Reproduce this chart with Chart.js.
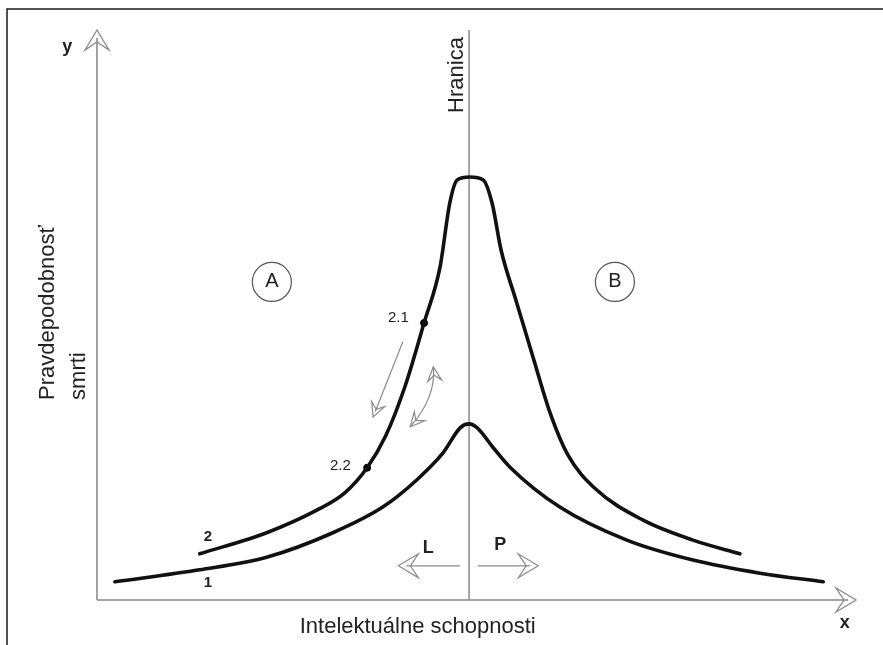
<!DOCTYPE html>
<html>
<head>
<meta charset="utf-8">
<script src="https://cdn.jsdelivr.net/npm/chart.js@4"></script>
<style>
  body { margin: 0; background: #fff; }
  #wrap { width: 883px; height: 645px; position: relative; }
</style>
</head>
<body>
<div id="wrap"><canvas id="diagram"></canvas></div>
<script>
// curve 1 (lower) and curve 2 (upper)
const curve1X = [2.4, 13.8, 22.8, 31.7, 38.4, 43.0, 46.5, 48.8, 50.0, 51.1, 53.2, 55.5, 62.2, 71.2, 80.1, 89.1, 97.6];
const curve1Y = [3.2, 5.3, 7.5, 11.8, 16.3, 21.1, 25.8, 30.2, 30.9, 30.2, 26.8, 23.3, 16.3, 10.5, 7.0, 4.7, 3.2];
const curve2X = [13.8, 22.8, 29.6, 33.3, 36.3, 38.8, 41.4, 43.95, 46.1, 47.4, 48.4, 50.1, 51.9, 53.1, 54.3, 56.3, 58.6, 60.9, 63.3, 66.9, 73.4, 80.1, 86.4];
const curve2Y = [8.1, 11.8, 15.8, 18.8, 23.2, 28.8, 37.5, 48.6, 58.4, 69.6, 73.7, 74.2, 73.7, 69.6, 61.4, 52.6, 42.6, 32.8, 25.4, 19.6, 14.0, 10.5, 8.1];
const markerX = [43.95, 36.3];
const markerY = [48.6, 23.2];
const markerLabels = ['2.1', '2.2'];
const borderX = 50;

const FONT = "'Liberation Sans', Arial, sans-serif";

function toPoints(xs, ys) {
    return xs.map((x, i) => ({ x: x, y: ys[i] }));
}

function openArrow(ctx, tx, ty, angle, len, half) {
    const c = Math.cos(angle), s = Math.sin(angle);
    const bx = tx - c * len, by = ty - s * len;
    const nx = -s, ny = c;
    ctx.beginPath();
    ctx.moveTo(bx + nx * half, by + ny * half);
    ctx.lineTo(tx, ty);
    ctx.lineTo(bx - nx * half, by - ny * half);
    ctx.lineTo(tx - c * len * 0.6, ty - s * len * 0.6);
    ctx.closePath();
    ctx.stroke();
}

const diagramPlugin = {
    id: 'diagramPlugin',
    beforeDatasetsDraw(chart) {
        const ctx = chart.ctx;
        const sx = chart.scales.x, sy = chart.scales.y;
        const P = (x, y) => [sx.getPixelForValue(x), sy.getPixelForValue(y)];
        ctx.save();

        // frame
        ctx.strokeStyle = '#1a1a1a';
        ctx.lineWidth = 1.5;
        ctx.beginPath();
        ctx.moveTo(7, 645);
        ctx.lineTo(7, 9);
        ctx.lineTo(883, 9);
        ctx.stroke();

        // axes
        const o = P(0, 0), yt = P(0, 100), xt = P(102, 0);
        ctx.strokeStyle = '#a3a3a3';
        ctx.lineWidth = 2;
        ctx.beginPath();
        ctx.moveTo(o[0], o[1]);
        ctx.lineTo(yt[0], yt[1] + 8);
        ctx.moveTo(o[0], o[1]);
        ctx.lineTo(xt[0] - 8, xt[1]);
        ctx.stroke();
        ctx.lineWidth = 1.3;
        ctx.strokeStyle = '#8a8a8a';
        openArrow(ctx, yt[0], yt[1], -Math.PI / 2, 20, 12);
        openArrow(ctx, xt[0], xt[1], 0, 20, 12);

        // Hranica line
        const h0 = P(borderX, 0), h1 = P(borderX, 100);
        ctx.strokeStyle = '#8f8f8f';
        ctx.lineWidth = 1.6;
        ctx.beginPath();
        ctx.moveTo(h0[0], h0[1]);
        ctx.lineTo(h1[0], h1[1]);
        ctx.stroke();

        // L / P arrows
        ctx.strokeStyle = '#8a8a8a';
        ctx.lineWidth = 1.2;
        const l0 = P(48.8, 6.0), l1 = P(40.5, 6.0);
        const p0 = P(51.2, 6.0), p1 = P(59.3, 6.0);
        ctx.beginPath();
        ctx.moveTo(l0[0], l0[1]); ctx.lineTo(l1[0] + 8, l1[1]);
        ctx.moveTo(p0[0], p0[1]); ctx.lineTo(p1[0] - 8, p1[1]);
        ctx.stroke();
        openArrow(ctx, l1[0], l1[1], Math.PI, 20, 12);
        openArrow(ctx, p1[0], p1[1], 0, 20, 12);

        // movement arrows along curve 2
        const a0 = P(41.1, 45.3), a1 = P(37.1, 32.1);
        const ang1 = Math.atan2(a1[1] - a0[1], a1[0] - a0[0]);
        ctx.beginPath();
        ctx.moveTo(a0[0], a0[1]);
        ctx.lineTo(a1[0] - Math.cos(ang1) * 6, a1[1] - Math.sin(ang1) * 6);
        ctx.stroke();
        openArrow(ctx, a1[0], a1[1], ang1, 14, 7);

        const b0 = P(45.2, 40.9), bc = P(45.6, 35.6), b1 = P(42.1, 30.4);
        ctx.beginPath();
        ctx.moveTo(b0[0], b0[1]);
        ctx.quadraticCurveTo(bc[0], bc[1], b1[0], b1[1]);
        ctx.stroke();
        openArrow(ctx, b0[0], b0[1], Math.atan2(b0[1] - bc[1], b0[0] - bc[0]), 14, 7);
        openArrow(ctx, b1[0], b1[1], Math.atan2(b1[1] - bc[1], b1[0] - bc[0]), 14, 7);

        ctx.restore();
    },
    afterDatasetsDraw(chart) {
        const ctx = chart.ctx;
        const sx = chart.scales.x, sy = chart.scales.y;
        const P = (x, y) => [sx.getPixelForValue(x), sy.getPixelForValue(y)];
        ctx.save();
        ctx.fillStyle = '#222';
        ctx.textBaseline = 'middle';
        ctx.textAlign = 'center';

        const text = (str, x, y, size, weight) => {
            const p = P(x, y);
            ctx.font = (weight || 'normal') + ' ' + size + 'px ' + FONT;
            ctx.fillText(str, p[0], p[1]);
        };

        text('y', -4.0, 97.0, 18, 'bold');
        text('x', 100.5, -4.0, 18, 'bold');
        text('Intelektuálne schopnosti', 43.1, -4.7, 22);

        // rotated texts
        ctx.font = '22px ' + FONT;
        let p = P(48.4, 92.1);
        ctx.save();
        ctx.translate(p[0], p[1]);
        ctx.rotate(-Math.PI / 2);
        ctx.fillText('Hranica', 0, 0);
        ctx.restore();

        ctx.textAlign = 'left';
        p = P(-6.6, 35.1);
        ctx.save();
        ctx.translate(p[0], p[1]);
        ctx.rotate(-Math.PI / 2);
        ctx.fillText('Pravdepodobnosť', 0, 0);
        ctx.restore();
        p = P(-2.4, 35.1);
        ctx.save();
        ctx.translate(p[0], p[1]);
        ctx.rotate(-Math.PI / 2);
        ctx.fillText('smrti', 0, 0);
        ctx.restore();
        ctx.textAlign = 'center';

        // region circles
        ctx.strokeStyle = '#555';
        ctx.lineWidth = 1.2;
        [['A', 23.5, 55.8], ['B', 69.6, 55.8]].forEach(r => {
            const c = P(r[1], r[2]);
            ctx.beginPath();
            ctx.arc(c[0], c[1], 19.5, 0, Math.PI * 2);
            ctx.stroke();
            text(r[0], r[1], r[2], 20);
        });

        // curve / point labels
        text(markerLabels[0], 40.5, 49.5, 15);
        text(markerLabels[1], 32.7, 23.5, 15);
        text('2', 14.9, 11.1, 15, 'bold');
        text('1', 14.9, 3.0, 15, 'bold');
        text('L', 44.5, 9.1, 18, 'bold');
        text('P', 54.2, 9.6, 18, 'bold');

        ctx.restore();
    }
};

const chart = new Chart(document.getElementById('diagram'), {
    type: 'line',
    data: {
        datasets: [
            {
                label: '1',
                data: toPoints(curve1X, curve1Y),
                borderColor: '#111',
                borderWidth: 3.6,
                pointRadius: 0,
                cubicInterpolationMode: 'monotone',
                borderCapStyle: 'round',
                fill: false
            },
            {
                label: '2',
                data: toPoints(curve2X, curve2Y),
                borderColor: '#111',
                borderWidth: 3.6,
                pointRadius: 0,
                cubicInterpolationMode: 'monotone',
                borderCapStyle: 'round',
                fill: false
            },
            {
                label: 'body',
                data: toPoints(markerX, markerY),
                showLine: false,
                pointRadius: 3.5,
                pointBackgroundColor: '#000',
                pointBorderColor: '#000'
            }
        ]
    },
    options: {
        responsive: true,
        maintainAspectRatio: false,
        animation: false,
        layout: { padding: { left: 97, right: 27, top: 30, bottom: 45 } },
        scales: {
            x: { type: 'linear', min: 0, max: 102, display: false },
            y: { type: 'linear', min: 0, max: 100, display: false }
        },
        plugins: {
            legend: { display: false },
            tooltip: { enabled: false }
        }
    },
    plugins: [diagramPlugin]
});
</script>
</body>
</html>
